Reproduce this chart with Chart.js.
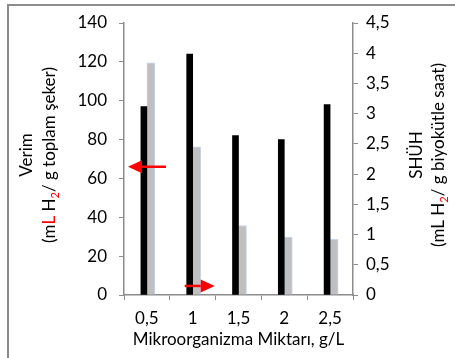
<!DOCTYPE html>
<html>
<head>
<meta charset="utf-8">
<script src="https://cdn.jsdelivr.net/npm/chart.js@4.4.1/dist/chart.umd.min.js"></script>
<style>
  html, body { margin: 0; padding: 0; background: #fff; }
  #wrap { position: relative; width: 455px; height: 358px; overflow: hidden; }
  #frame { position: absolute; left: 7px; top: 4px; width: 460px; height: 370px;
           border: 2px solid #8c8c8c; box-sizing: border-box; pointer-events: none; }
</style>
</head>
<body>
<div id="wrap">
  <canvas id="chart" width="455" height="358"></canvas>
  <div id="frame"></div>
</div>
<script>
// Mikroorganizma miktarı (g/L)
const categories = ['0,5', '1', '1,5', '2', '2,5'];
// Verim, mL H2 / g toplam şeker (sol eksen)
const verim = [97, 124, 82, 80, 98];
// SHÜH, mL H2 / g biyokütle saat (sağ eksen)
const shuh = [3.84, 2.45, 1.15, 0.96, 0.92];

const leftTicks = [0, 20, 40, 60, 80, 100, 120, 140];
const rightTicks = ['0', '0,5', '1', '1,5', '2', '2,5', '3', '3,5', '4', '4,5'];

const FONT = 'Lato';
const FS = 17;
const AXIS = '#8c8c8c';

// eksen başlıkları: dikey, parça parça renkli metin
function drawVertical(ctx, parts, cx, cy, size) {
    ctx.save();
    ctx.translate(cx, cy);
    ctx.rotate(-Math.PI / 2);
    ctx.textBaseline = 'middle';
    let total = 0;
    parts.forEach(p => {
        ctx.font = (p.sub ? size * 0.65 : size) + 'px ' + FONT;
        total += ctx.measureText(p.text).width;
    });
    let x = -total / 2;
    parts.forEach(p => {
        ctx.font = (p.sub ? size * 0.65 : size) + 'px ' + FONT;
        ctx.fillStyle = p.color || '#000';
        ctx.textAlign = 'left';
        ctx.fillText(p.text, x, p.sub ? size * 0.3 : 0);
        x += ctx.measureText(p.text).width;
    });
    ctx.restore();
}

function drawArrow(ctx, x1, y, x2) {
    const dir = Math.sign(x2 - x1);
    const head = 14;
    ctx.save();
    ctx.strokeStyle = '#ff0000';
    ctx.fillStyle = '#ff0000';
    ctx.lineWidth = 2.5;
    ctx.beginPath();
    ctx.moveTo(x1, y);
    ctx.lineTo(x2 - dir * head, y);
    ctx.stroke();
    ctx.beginPath();
    ctx.moveTo(x2, y);
    ctx.lineTo(x2 - dir * head, y - 6.5);
    ctx.lineTo(x2 - dir * head, y + 6.5);
    ctx.closePath();
    ctx.fill();
    ctx.restore();
}

const annotations = {
    id: 'annotations',
    afterDraw(chart) {
        const ctx = chart.ctx;
        const { y, y1, x } = chart.scales;
        const mid = (chart.chartArea.top + chart.chartArea.bottom) / 2 - 4;

        drawVertical(ctx, [{ text: 'Verim' }], 27, mid, FS);
        drawVertical(ctx, [
            { text: '(m' }, { text: 'L', color: '#ff0000' }, { text: ' H' },
            { text: '2', color: '#ff0000', sub: true }, { text: '/ g toplam şeker)' }
        ], 50, mid, FS);

        drawVertical(ctx, [{ text: 'SHÜH' }], 417, mid, FS);
        drawVertical(ctx, [
            { text: '(mL H' }, { text: '2', color: '#ff0000', sub: true },
            { text: '/ g biyokütle saat)' }
        ], 439, mid, FS);

        // oklar: hangi serinin hangi eksene ait olduğunu gösterir
        drawArrow(ctx, x.left + 42, y.getPixelForValue(66), x.left + 4);
        const c1 = x.getPixelForValue(1);
        drawArrow(ctx, c1 - 8, y1.getPixelForValue(0.15), c1 + 22);
    }
};

new Chart(document.getElementById('chart'), {
    type: 'bar',
    data: {
        labels: categories,
        datasets: [
            {
                label: 'Verim',
                data: verim,
                yAxisID: 'y',
                backgroundColor: '#000000',
                barThickness: 6
            },
            {
                label: 'SHÜH',
                data: shuh,
                yAxisID: 'y1',
                backgroundColor: '#bfbfbf',
                borderColor: '#c5d6ec',
                borderWidth: 1,
                barThickness: 8
            }
        ]
    },
    options: {
        responsive: false,
        animation: false,
        layout: { padding: { top: 23, left: 0, right: 0, bottom: 0 } },
        plugins: {
            legend: { display: false },
            tooltip: { enabled: false }
        },
        scales: {
            x: {
                grid: { offset: true, drawOnChartArea: false, tickLength: 5, color: AXIS },
                border: { color: AXIS, width: 1.5 },
                ticks: { color: '#000', font: { family: FONT, size: FS }, padding: 8 },
                title: {
                    display: true,
                    text: 'Mikroorganizma Miktarı, g/L',
                    color: '#000',
                    font: { family: FONT, size: FS },
                    padding: { top: 0, bottom: 8 }
                },
                afterFit: s => { s.height = 63; }
            },
            y: {
                position: 'left',
                min: 0,
                max: 140,
                afterBuildTicks: s => { s.ticks = leftTicks.map(v => ({ value: v })); },
                grid: { drawOnChartArea: false, tickLength: 5, color: AXIS },
                border: { color: AXIS, width: 1.5 },
                ticks: { color: '#000', font: { family: FONT, size: FS }, padding: 12 },
                afterFit: s => { s.width = 124; }
            },
            y1: {
                position: 'right',
                min: 0,
                max: 4.5,
                afterBuildTicks: s => { s.ticks = rightTicks.map(t => ({ value: parseFloat(t.replace(',', '.')) })); },
                grid: { drawOnChartArea: false, tickLength: 5, color: AXIS },
                border: { color: AXIS, width: 1.5 },
                ticks: {
                    color: '#000',
                    font: { family: FONT, size: FS },
                    padding: 8,
                    callback: (v, i) => rightTicks[i]
                },
                afterFit: s => { s.width = 102; }
            }
        }
    },
    plugins: [annotations]
});
</script>
</body>
</html>
